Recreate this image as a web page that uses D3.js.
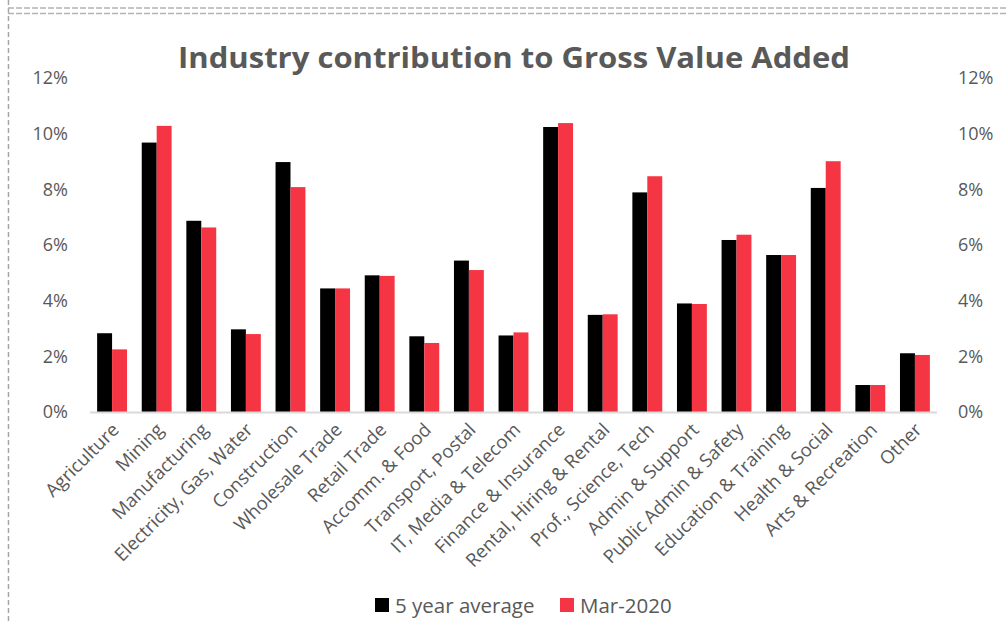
<!DOCTYPE html>
<html lang="en">
<head>
<meta charset="UTF-8">
<title>Industry contribution to Gross Value Added</title>
<style>
  body { margin: 0; background: #fff; }
  svg text { font-family: "Open Sans", sans-serif; fill: #595959; }
</style>
</head>
<body>
<script src="https://d3js.org/d3.v7.min.js"></script>
<div id="chart"></div>
<script>
// data
var categories = ["Agriculture", "Mining", "Manufacturing", "Electricity, Gas, Water", "Construction",
  "Wholesale Trade", "Retail Trade", "Accomm. & Food", "Transport, Postal", "IT, Media & Telecom",
  "Finance & Insurance", "Rental, Hiring & Rental", "Prof., Science, Tech", "Admin & Support",
  "Public Admin & Safety", "Education & Training", "Health & Social", "Arts & Recreation", "Other"]
var fiveYearAvg = [2.83, 9.68, 6.87, 2.97, 8.98, 4.44, 4.91, 2.72, 5.44, 2.75,
  10.24, 3.49, 7.89, 3.90, 6.18, 5.64, 8.05, 0.97, 2.11]
var mar2020 = [2.25, 10.28, 6.63, 2.80, 8.08, 4.44, 4.89, 2.48, 5.10, 2.86,
  10.38, 3.51, 8.47, 3.88, 6.37, 5.64, 9.01, 0.97, 2.05]
var seriesNames = ["5 year average", "Mar-2020"]
var yTicks = [0, 2, 4, 6, 8, 10, 12]

var width = 1008, height = 623
var colors = ["#000000", "#f53543"]

var svg = d3.select("#chart").append("svg")
  .attr("width", width).attr("height", height)

// dashed frame (two lines on top, one on the left)
svg.append("line").attr("x1", 8.5).attr("x2", 8.5).attr("y1", 0).attr("y2", height)
  .attr("stroke", "#a6a6a6").attr("stroke-width", 1.5).attr("stroke-dasharray", "5,3")
svg.append("line").attr("x1", 8).attr("x2", width).attr("y1", 8).attr("y2", 8)
  .attr("stroke", "#b3b3b3").attr("stroke-width", 1.5).attr("stroke-dasharray", "6,2")
svg.append("line").attr("x1", 8).attr("x2", width).attr("y1", 13.5).attr("y2", 13.5)
  .attr("stroke", "#b3b3b3").attr("stroke-width", 1.5).attr("stroke-dasharray", "6,2")

// scales
var x = d3.scaleBand().domain(categories).range([90, 937]).paddingInner(0.33).paddingOuter(0.16)
var xs = d3.scaleBand().domain([0, 1]).range([0, x.bandwidth()])
var y = d3.scaleLinear().domain([0, 12]).range([412, 78])

// title
svg.append("text").attr("x", 514).attr("y", 68).attr("text-anchor", "middle")
  .attr("textLength", 672).attr("lengthAdjust", "spacingAndGlyphs")
  .style("font-size", "28px").style("font-weight", "bold")
  .text("Industry contribution to Gross Value Added")

// y axes left and right
var fmt = function (d) { return d + "%" }
svg.append("g").attr("transform", "translate(68,0)")
  .call(d3.axisLeft(y).tickValues(yTicks).tickSize(0).tickPadding(0).tickFormat(fmt))
svg.append("g").attr("transform", "translate(958,0)")
  .call(d3.axisRight(y).tickValues(yTicks).tickSize(0).tickPadding(0).tickFormat(fmt))
svg.selectAll(".domain").remove()
svg.selectAll(".tick text").style("font-size", "18px").style("fill", "#595959")
  .style("font-family", "'Open Sans', sans-serif")

// bars
var groups = svg.append("g").selectAll("g").data(categories).enter().append("g")
  .attr("transform", function (d) { return "translate(" + x(d) + ",0)" })
groups.selectAll("rect")
  .data(function (d, i) { return [fiveYearAvg[i], mar2020[i]] })
  .enter().append("rect")
  .attr("x", function (d, j) { return xs(j) })
  .attr("width", xs.bandwidth())
  .attr("y", function (d) { return y(d) })
  .attr("height", function (d) { return y(0) - y(d) })
  .attr("fill", function (d, j) { return colors[j] })

// baseline
svg.append("line").attr("x1", 90).attr("x2", 937).attr("y1", y(0) + 0.5).attr("y2", y(0) + 0.5)
  .attr("stroke", "#d9d9d9").attr("stroke-width", 2)

// category labels
svg.append("g").selectAll("text").data(categories).enter().append("text")
  .attr("transform", function (d) { return "translate(" + (x(d) + x.bandwidth() / 2 + 8) + ",431) rotate(-45)" })
  .attr("text-anchor", "end")
  .style("font-size", "18.5px")
  .text(function (d) { return d })

// legend
var legend = svg.append("g").selectAll("g").data(seriesNames).enter().append("g")
  .attr("transform", function (d, i) { return "translate(" + [375, 560][i] + ",598)" })
legend.append("rect").attr("width", 14).attr("height", 14)
  .attr("fill", function (d, i) { return colors[i] })
legend.append("text").attr("x", 20).attr("y", 15).style("font-size", "20.5px")
  .text(function (d) { return d })
</script>
</body>
</html>
